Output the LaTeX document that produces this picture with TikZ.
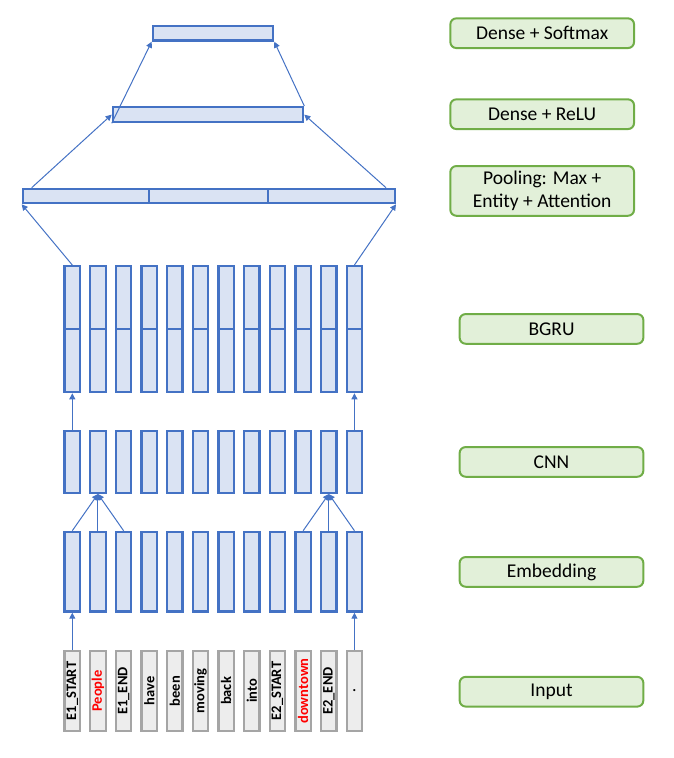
\documentclass[tikz,border=0pt]{standalone}
\usepackage{fontspec}
\setmainfont{Carlito}
\usepackage{graphicx}
\usepackage{xcolor}
\usetikzlibrary{positioning, arrows.meta, calc}
\definecolor{lineblue}{HTML}{4472C4}
\definecolor{fillblue}{HTML}{DAE3F3}
\definecolor{linegreen}{HTML}{70AD47}
\definecolor{fillgreen}{HTML}{E2F0D9}
\definecolor{linegray}{HTML}{A5A5A5}
\definecolor{fillgray}{HTML}{EDEDED}
\definecolor{wordred}{HTML}{FF0000}

\begin{document}
\begin{tikzpicture}[
    x=1pt, y=-1pt,
    vec/.style={rectangle, draw=lineblue, fill=fillblue, line width=2.3pt, minimum width=15.4pt, inner sep=0pt},
    word/.style={rectangle, draw=linegray, fill=fillgray, line width=2.3pt, minimum width=15.4pt, minimum height=79.7pt, inner sep=0pt, font=\fontsize{14.5}{17}\selectfont\bfseries},
    layer/.style={rectangle, draw=linegreen, fill=fillgreen, line width=2pt, rounded corners=6pt, minimum width=183.7pt, minimum height=29.7pt, align=center, font=\fontsize{19.5}{23}\selectfont},
    arrow/.style={-{Triangle[length=6pt, width=6pt]}, draw=lineblue, line width=1pt}
    ]
\useasboundingbox (0,0) rectangle (674,758);

\foreach \w/\c [count=\i] in {E1\_START/black, People/wordred, E1\_END/black, have/black, been/black, moving/black, back/black, into/black, E2\_START/black, downtown/wordred, E2\_END/black, ./black} {
    \node[word] (in\i) at ({72.3+25.65*(\i-1)}, 691) {\rotatebox{90}{\textcolor{\c}{\w}}};
    \node[vec, minimum height=79.7pt, above=37.3pt of in\i] (emb\i) {};
    \node[vec, minimum height=61.7pt, above=36.7pt of emb\i] (cnn\i) {};
    \node[vec, minimum height=63pt, above=36.7pt of cnn\i] (rnnb\i) {};
    \node[vec, minimum height=63pt, above=-2.3pt of rnnb\i] (rnn\i) {};
}

\node[vec, minimum width=126.45pt, minimum height=14.3pt] (P1) at (86.08, 196) {};
\node[vec, minimum width=118.4pt, minimum height=14.3pt, right=-2.3pt of P1] (P2) {};
\node[vec, minimum width=127.15pt, minimum height=14.3pt, right=-2.3pt of P2] (P3) {};
\node[vec, minimum width=190.3pt, minimum height=15pt] (D) at (208, 114.65) {};
\node[vec, minimum width=120.3pt, minimum height=14.4pt] (S) at (213, 33.35) {};

\node[layer] (Lsoft) at (542.2, 33.2) {Dense + Softmax};
\node[layer] (Lrelu) at (542.2, 114.2) {Dense + ReLU};
\node[layer, minimum height=49.7pt] (Lpool) at (542.2, 190.9) {Pooling: Max +\\Entity + Attention};
\node[layer] (Lrnn) at (551.5, 328.9) {BGRU};
\node[layer] (Lcnn) at (551.5, 461.9) {CNN};
\node[layer] (Lemb) at (551.5, 571.9) {Embedding};
\node[layer] (Lin) at (551.5, 691.7) {Input};

\draw[arrow] (in1) -- (emb1);
\draw[arrow] (in12) -- (emb12);
\foreach \i in {1,2,3} \draw[arrow] (emb\i.north) -- (cnn2.south);
\foreach \i in {10,11,12} \draw[arrow] (emb\i.north) -- (cnn11.south);
\draw[arrow] (cnn1) -- (rnnb1);
\draw[arrow] (cnn12) -- (rnnb12);
\draw[arrow] (rnn1.north) -- (P1.south west);
\draw[arrow] (rnn12.north) -- (P3.south east);
\draw[arrow] ([xshift=10pt]P1.north west) -- (D.west);
\draw[arrow] ([xshift=-10pt]P3.north east) -- (D.east);
\draw[arrow] (D.south west) -- (S.south west);
\draw[arrow] (D.north east) -- (S.south east);
\end{tikzpicture}
\end{document}
